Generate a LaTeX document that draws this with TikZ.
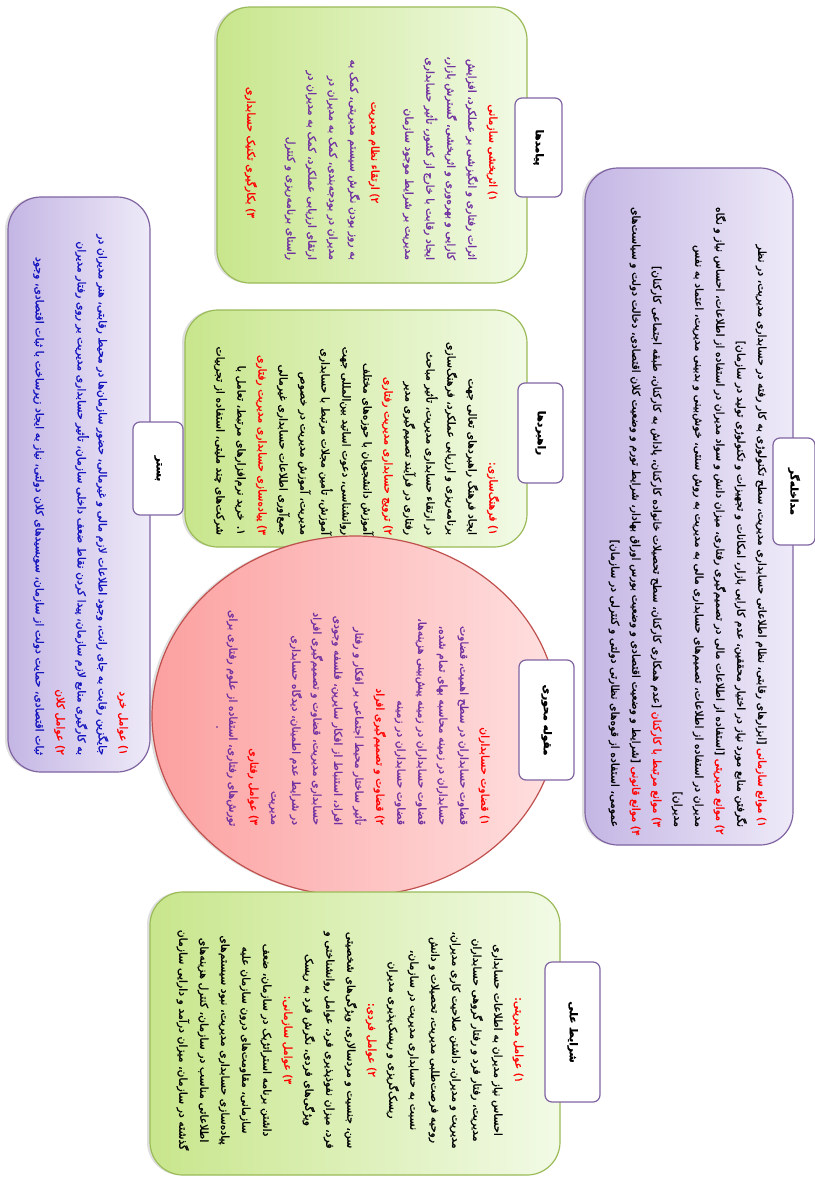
\documentclass[tikz,border=0pt]{standalone}
\usepackage{fontspec}
\newfontfamily\farsi[Script=Arabic,FakeBold=1.5]{DejaVu Sans}
\newfontfamily\farsired[Script=Arabic,FakeBold=1.5,Color=FF0000]{DejaVu Sans}
\TeXXeTstate=1
\usetikzlibrary{shapes.geometric,shadows}
\newcommand{\fatext}[1]{\mbox{\beginR #1\endR}}
\definecolor{greenline}{RGB}{155,187,89}
\definecolor{greendark}{RGB}{200,230,140}
\definecolor{greenlight}{RGB}{242,250,230}
\definecolor{purpleline}{RGB}{128,100,162}
\definecolor{purpledark}{RGB}{196,182,228}
\definecolor{purplelight}{RGB}{238,234,248}
\definecolor{redline}{RGB}{192,80,77}
\definecolor{reddark}{RGB}{252,160,160}
\definecolor{redlight}{RGB}{255,224,224}
\definecolor{textpurple}{RGB}{112,48,160}
\definecolor{textblue}{RGB}{20,20,190}

\begin{document}
\begin{tikzpicture}[x=1pt,y=-1pt,
  bigbox/.style={line width=1.2pt, rounded corners=33pt, inner sep=0pt,
    drop shadow={shadow xshift=-3pt,shadow yshift=0pt,opacity=0.25}},
  greenbox/.style={bigbox, draw=greenline, left color=greendark, right color=greenlight},
  purplebox/.style={bigbox, draw=purpleline, left color=purpledark, right color=purplelight},
  titlebox/.style={draw=purpleline, line width=1.2pt, fill=white, rounded corners=7pt,
    rotate=-90, inner sep=0pt, font=\farsi\bfseries\fontsize{10.5}{12}\selectfont},
  textblock/.style={rotate=-90, inner sep=0pt, font=\farsi\fontsize{10.8}{21}\selectfont}]
  \path[use as bounding box, fill=white] (0,0) rectangle (814,1178);

  % boxes
  \node[greenbox, minimum width=310pt, minimum height=276pt] (outcomes) at (372,145) {};
  \node[greenbox, minimum width=342pt, minimum height=237pt] (strategies) at (356,428.5) {};
  \node[purplebox, minimum width=208pt, minimum height=677pt] (intervening) at (689,506.5) {};
  \node[purplebox, minimum width=142pt, minimum height=575pt] (context) at (79,484.5) {};
  \node[ellipse, draw=redline, line width=1.2pt, left color=reddark, right color=redlight,
    minimum width=406pt, minimum height=360pt, inner sep=0pt,
    drop shadow={shadow xshift=-3pt,shadow yshift=0pt,opacity=0.25}] (core) at (355,716) {};
  \node[greenbox, minimum width=410pt, minimum height=283pt] (causal) at (355,1033.5) {};

  % titles
  \node[titlebox, minimum width=99pt, minimum height=47pt] (outcomestitle) at (538.5,147.5) {\fatext{پیامدها}};
  \node[titlebox, minimum width=100pt, minimum height=45pt] (strategiestitle) at (540.5,433) {\fatext{راهبردها}};
  \node[titlebox, minimum width=107pt, minimum height=42pt] (interveningtitle) at (794,491.5) {\fatext{مداخله‌گر}};
  \node[titlebox, minimum width=93pt, minimum height=50pt] (contexttitle) at (158,468.5) {\fatext{بستر}};
  \node[titlebox, minimum width=120pt, minimum height=55pt] (coretitle) at (546.5,720) {\fatext{مقوله محوری}};
  \node[titlebox, minimum width=140pt, minimum height=55pt] (causaltitle) at (572.5,1032) {\fatext{شرایط علی}};

  % outcomes
  \node[textblock, text width=215pt, text=textpurple] (outcomestext) at (371,152.5) {%
    {\centering\fatext{\farsired ۱) اثربخشی سازمانی}\par}
    {\raggedleft
    \fatext{اثرات رفتاری و انگیزشی بر عملکرد، افزایش}\\
    \fatext{کارایی و بهره‌وری و اثربخشی، گسترش بازار،}\\
    \fatext{ایجاد رقابت با خارج از کشور، تأثیر حسابداری}\\
    \fatext{مدیریت بر شرایط موجود سازمان}\par}
    \vspace{13pt}
    {\centering\fatext{\farsired ۲) ارتقاء نظام مدیریت}\par}
    {\raggedleft
    \fatext{به روز بودن نگرش سیستم مدیریتی، کمک به}\\
    \fatext{مدیران در بودجه‌بندی، کمک به مدیران در}\\
    \fatext{ارتقای ارزیابی عملکرد، کمک به مدیران در}\\
    \fatext{راستای برنامه‌ریزی و کنترل}\par}
    \vspace{19pt}
    {\centering\fatext{\farsired ۳) بکارگیری تکنیک حسابداری}\par}};

  % strategies
  \node[textblock, text width=205pt, align=right] (strategiestext) at (356.5,432.5) {%
    \fatext{\farsired ۱) فرهنگ‌سازی:}\hspace*{15pt}\\
    \fatext{ایجاد فرهنگ راهبردهای تعالی جهت}\\
    \fatext{برنامه‌ریزی و ارزیابی عملکرد، فرهنگ‌سازی}\\
    \fatext{در ارتقاء حسابداری مدیریت، تأثیر مباحث}\\
    \fatext{رفتاری در فرآیند تصمیم‌گیری مدیر}\\
    \fatext{\farsired ۲) ترویج حسابداری مدیریت رفتاری}\\
    \fatext{آموزش دانشجویان با حوزه‌های مختلف}\\
    \fatext{روانشناسی، دعوت اساتید بین‌المللی جهت}\\
    \fatext{آموزش، تأمین مجلات مرتبط با حسابداری}\\
    \fatext{مدیریت، آموزش مدیریت در خصوص}\\
    \fatext{جمع‌آوری اطلاعات حسابداری غیرمالی}\\
    \fatext{\farsired ۳) پیاده‌سازی حسابداری مدیریت رفتاری}\\
    \fatext{۱. خرید نرم‌افزارهای مرتبط، تعامل با}\\
    \fatext{شرکت‌های چند ملیتی، استفاده از تجربیات}};

  % intervening
  \node[textblock, text width=620pt, align=right] (interveningtext) at (687.5,517) {%
    \fatext{{\farsired ۱) موانع سازمانی} \lbrack ابزارهای رقابتی، نظام اطلاعاتی حسابداری مدیریت، سطح تکنولوژی به کار رفته در حسابداری مدیریت، در نظر}\hspace*{14pt}\\
    \fatext{نگرفتن منابع مورد نیاز در اختیار محققین، عدم کارایی بازار، امکانات و تجهیزات و تکنولوژی تولید در سازمان\rbrack}\\
    \fatext{{\farsired ۲) موانع مدیریتی} \lbrack استفاده از اطلاعات مالی در تصمیم‌گیری رفتاری، میزان دانش و سواد مدیران در استفاده از اطلاعات، احساس نیاز و نگاه}\\
    \fatext{مدیران در استفاده از اطلاعات، تصمیم‌های حسابداری مالی به مدیریت به روش سنتی، خوش‌بینی و بدبینی مدیریت، اعتماد به نفس}\\
    \fatext{مدیران\rbrack}\\
    \fatext{{\farsired ۳) موانع مرتبط با کارکنان} \lbrack عدم همکاری کارکنان، سطح تحصیلات خانواده کارکنان، پاداش به کارکنان، طبقه اجتماعی کارکنان\rbrack}\\
    \fatext{{\farsired ۴) موانع قانونی} \lbrack شرایط و وضعیت اقتصادی و وضعیت بورس اوراق بهادار، شرایط تورم و وضعیت کلان اقتصادی، دخالت دولت و سیاست‌های}\\
    \fatext{عمومی، استفاده از قوه‌های نظارتی دولتی و کنترلی در سازمان\rbrack}};

  % context
  \node[textblock, text width=540pt, align=right, text=textblue] (contexttext) at (80.5,485) {%
    \fatext{\farsired ۱) عوامل خرد}\\
    \fatext{جایگزین رقابت به جای رانت، وجود اطلاعات لازم مالی و غیرمالی، حضور سازمان‌ها در محیط رقابتی، هنر مدیران در}\\
    \fatext{به کارگیری منابع لازم سازمان، پیدا کردن نقاط ضعف داخلی سازمان، تأثیر حسابداری مدیریت بر روی رفتار مدیران}\\
    \fatext{\farsired ۲) عوامل کلان}\\
    \fatext{ثبات اقتصادی، حمایت دولت از سازمان، سوبسیدهای کلان دولتی، نیاز به ایجاد زیرساخت با ثبات اقتصادی، وجود}};

  % core
  \node[textblock, text width=215pt, align=right, text=textpurple] (coretext) at (358,717.5) {%
    \fatext{\farsired ۱) قضاوت حسابداران}\\
    \fatext{قضاوت حسابداران در سطح اهمیت، قضاوت}\\
    \fatext{حسابداران در زمینه محاسبه بهای تمام شده،}\\
    \fatext{قضاوت حسابداران در زمینه پیش‌بینی هزینه‌ها،}\\
    \fatext{قضاوت حسابداران در زمینه}\\
    \fatext{\farsired ۲) قضاوت و تصمیم‌گیری افراد}\\
    \fatext{تأثیر ساختار محیط اجتماعی بر افکار و رفتار}\\
    \fatext{افراد، استنباط از افکار سایرین، فلسفه وجودی}\\
    \fatext{حسابداری مدیریت، قضاوت و تصمیم‌گیری افراد}\\
    \fatext{در شرایط عدم اطمینان، دیدگاه حسابداری}\\
    \fatext{مدیریت}\\
    \fatext{\farsired ۳) عوامل رفتاری}\\
    \fatext{تورش‌های رفتاری، استفاده از علوم رفتاری برای}};
  \node[textblock, text=textpurple] (coredot) at (217,727) {.};

  % causal
  \node[textblock, text width=230pt, align=center] (causaltext) at (350,1040) {%
    \fatext{\farsired ۱) عوامل مدیریتی:}\\
    \fatext{احساس نیاز مدیران به اطلاعات حسابداری}\\
    \fatext{مدیریت، رفتار فرد و رفتار گروهی حسابداران}\\
    \fatext{مدیریت و مدیران، داشتن صلاحیت کاری مدیران،}\\
    \fatext{روحیه فرصت‌طلبی مدیریت، تحصیلات و دانش}\\
    \fatext{نسبت به حسابداری مدیریت در سازمان،}\\
    \fatext{ریسک‌گریزی و ریسک‌پذیری مدیران}\\
    \fatext{\farsired ۲) عوامل فردی:}\\
    \fatext{سن، جنسیت و مردسالاری، ویژگی‌های شخصیتی}\\
    \fatext{فرد، میزان نفوذپذیری فرد، عوامل روانشناختی و}\\
    \fatext{ویژگی‌های فردی، نگرش فرد به ریسک}\\
    \fatext{\farsired ۳) عوامل سازمانی:}\\
    \fatext{داشتن برنامه استراتژیک در سازمان، ضعف}\\
    \fatext{سازمانی، مقاومت‌های درون سازمان علیه}\\
    \fatext{پیاده‌سازی حسابداری مدیریت، نبود سیستم‌های}\\
    \fatext{اطلاعاتی مناسب در سازمان، کنترل هزینه‌های}\\
    \fatext{گذشته در سازمان، میزان درآمد و دارایی سازمان}};
\end{tikzpicture}
\end{document}
